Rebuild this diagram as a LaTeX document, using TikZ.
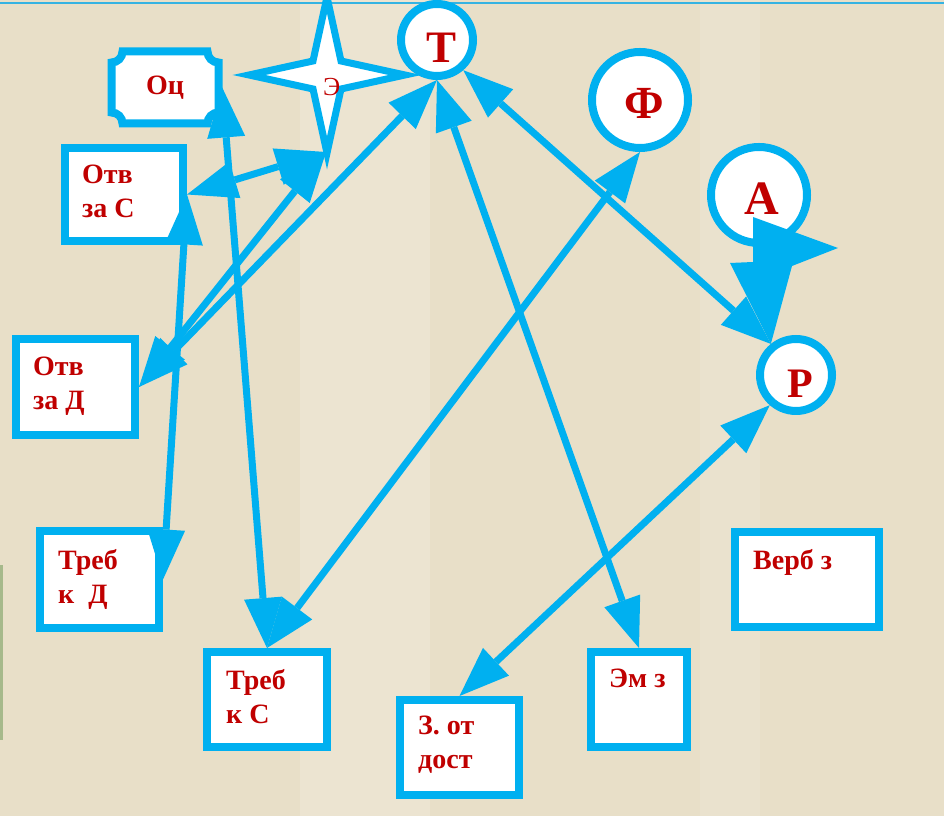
\documentclass[tikz,border=0pt]{standalone}
\usepackage{fontspec}
\setmainfont{Liberation Serif}
\usetikzlibrary{arrows.meta}
\definecolor{acyan}{HTML}{00B0F0}
\definecolor{tred}{HTML}{C00000}
\definecolor{bgc}{HTML}{E8DFC8}
\definecolor{stripc}{HTML}{A6B98B}
\definecolor{topline}{HTML}{35B3E2}
\begin{document}
\begin{tikzpicture}[x=1pt,y=1pt,
  boxnode/.style={draw=acyan, line width=8pt, fill=white, inner sep=0pt},
  circnode/.style={circle, draw=acyan, line width=8pt, fill=white, inner sep=0pt},
  txt/.style={font=\bfseries\fontsize{28}{34}\selectfont, text=tred, inner sep=0pt, align=left, anchor=north west},
  letter/.style={text=tred, inner sep=0pt, anchor=base},
  link/.style={draw=acyan, line width=7pt, arrows={Triangle[length=50pt,width=38pt,line width=0pt]-Triangle[length=50pt,width=38pt,line width=0pt]}}
]
\useasboundingbox (0,0) rectangle (944,816);
% background
\fill[bgc] (0,0) rectangle (944,816);
\fill[white, opacity=0.18] (300,0) rectangle (430,816);
\fill[white, opacity=0.12] (700,0) rectangle (760,816);
\fill[stripc] (0,76) rectangle (3,251);
\draw[topline, line width=2pt] (0,813) -- (944,813);

% star
\begin{scope}[shift={(327,741)}]
\draw[acyan, line width=7pt, fill=white, line join=miter, miter limit=20]
  (0,78) -- (14,14) -- (78,0) -- (14,-14) -- (0,-78) -- (-14,-14) -- (-78,0) -- (-14,14) -- cycle;
\end{scope}
\coordinate (ebot) at (326,664);
\node[text=tred, inner sep=0pt, anchor=base west, font=\fontsize{26}{26}\selectfont] (e-l) at (323,720) {Э};

% Оц box with concave corners
\draw[acyan, line width=8pt, fill=white]
  (122.5,764.5) -- (207.5,764.5) arc[start angle=180, end angle=270, radius=11]
  -- (218.5,703.5) arc[start angle=90, end angle=180, radius=11]
  -- (122.5,692.5) arc[start angle=0, end angle=90, radius=11]
  -- (111.5,753.5) arc[start angle=270, end angle=360, radius=11] -- cycle;
\node[minimum width=114pt, minimum height=79pt, inner sep=0pt, text=tred,
  font=\bfseries\fontsize{28}{34}\selectfont] (oc) at (165,728.5) {Оц};

% boxes
\node[boxnode, minimum width=118pt, minimum height=93pt] (otvc) at (124,621.5) {};
\node[boxnode, minimum width=119pt, minimum height=96pt] (otvd) at (75.5,429) {};
\node[boxnode, minimum width=119pt, minimum height=97pt] (trebd) at (99.5,236.5) {};
\node[boxnode, minimum width=120pt, minimum height=95pt] (trebc) at (267,116.5) {};
\node[boxnode, minimum width=119pt, minimum height=95pt] (zotd) at (459.5,68.5) {};
\node[boxnode, minimum width=96pt, minimum height=95pt] (emz) at (639,116.5) {};
\node[boxnode, minimum width=144pt, minimum height=95pt] (verb) at (807,236.5) {};

\node[txt] (otvc-t) at (82,651) {Отв\\за С};
\node[txt] (otvd-t) at (33,459) {Отв\\за Д};
\node[txt] (trebd-t) at (58,267) {Треб\\к\ \ Д};
\node[txt] (trebc-t) at (226,147) {Треб\\к С};
\node[txt] (zotd-t) at (418,100) {З. от\\дост};
\node[txt] (emz-t) at (609,147) {Эм з};
\node[txt] (verb-t) at (753,267) {Верб з};

% circles
\node[circnode, minimum size=72pt] (t) at (437,776) {};
\node[circnode, minimum size=96pt] (f) at (640,716) {};
\node[circnode, minimum size=96pt] (a) at (759,621) {};
\node[circnode, minimum size=72pt] (p) at (796,441) {};
\node[letter, font=\bfseries\fontsize{45}{45}\selectfont] (t-l) at (442,753) {Т};
\node[letter, font=\bfseries\fontsize{46}{46}\selectfont] (f-l) at (644,697) {Ф};
\node[letter, font=\bfseries\fontsize{48}{48}\selectfont] (a-l) at (761.5,601) {А};
\node[letter, font=\bfseries\fontsize{42}{42}\selectfont] (p-l) at (800,418) {Р};

% connectors
\draw[link] (otvc.east) -- (ebot);
\draw[link] (otvd.east) -- (ebot);
\draw[link] (otvd.east) -- (t.south);
\draw[link] (oc.east) -- (trebc.north);
\draw[link] (otvc.east) -- (trebd.east);
\draw[link] (t.south) -- (emz.north);
\draw[link] (t.-49) -- (p.129);
\draw[link] (f.south) -- (trebc.north);
\draw[link] (p.229) -- (zotd.north);

% A -> P block arrow
\fill[acyan] ([shift={(-6,-22)}]a.center) -- ([shift={(79,-53)}]a.center)
  -- ([shift={(33,-71)}]a.center) -- (p.129) -- ([shift={(-29,-68)}]a.center)
  -- ([shift={(-6,-67)}]a.center) -- cycle;
\end{tikzpicture}
\end{document}
